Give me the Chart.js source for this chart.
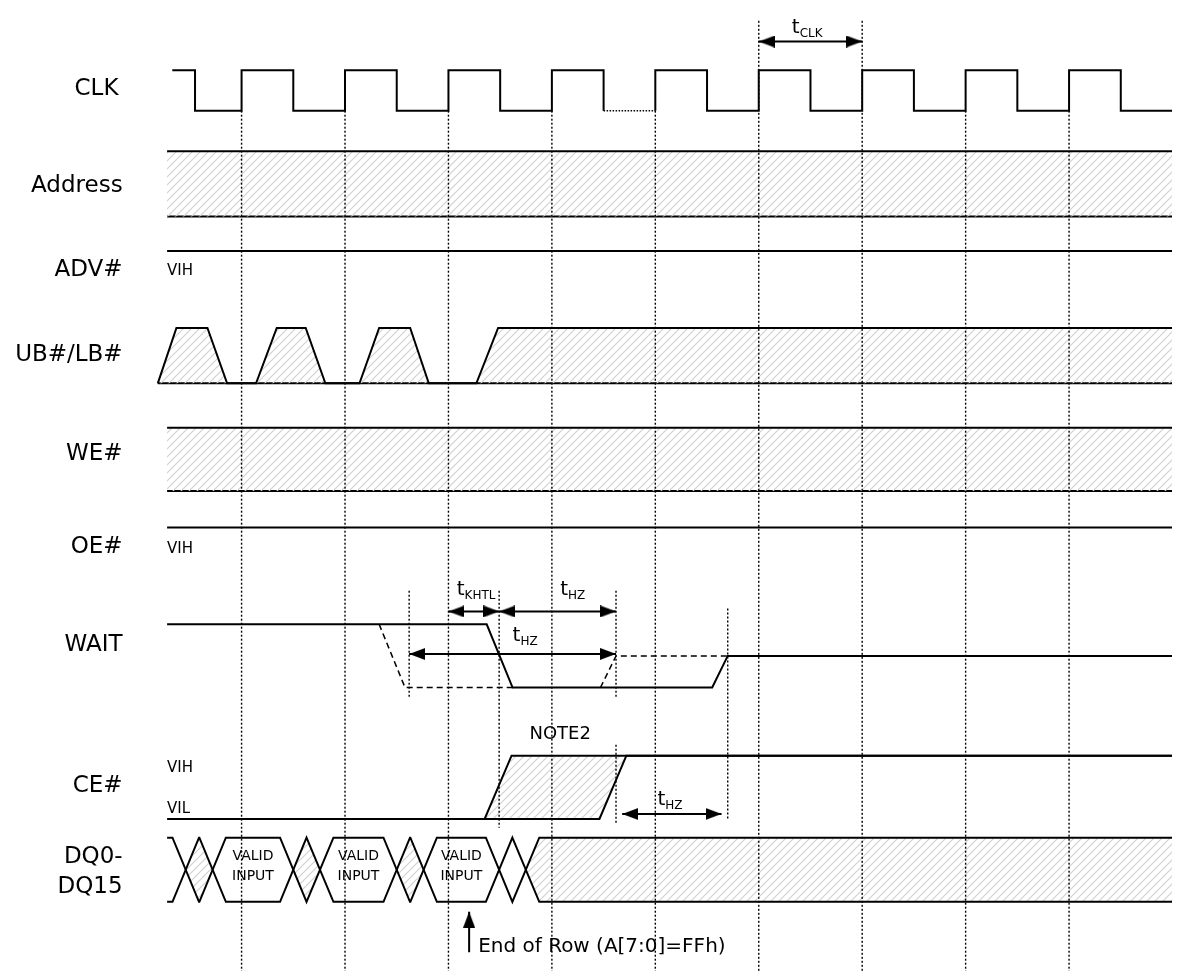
<!DOCTYPE html>
<html>
<head>
<meta charset="utf-8">
<script src="https://cdn.jsdelivr.net/npm/chart.js@4.4.1/dist/chart.umd.min.js"></script>
<style>
  html, body { margin: 0; padding: 0; background: #fff; }
  canvas { display: block; }
</style>
</head>
<body>
<canvas id="timing" width="1178" height="977"></canvas>
<script>
// x axis is in clock cycles: 0 = first rising CLK edge with a guide line
const X_START = -0.72;
const X_END = 9.0;

// ---- waveform data (time in cycles, level 0 = low, 1 = high, 0.5 = high-Z) ----
const clkStart = -0.67;
const clkEdges = [-0.45, 0, 0.5, 1, 1.5, 2, 2.5, 3, 3.5, 4, 4.5, 5, 5.5, 6, 6.5, 7, 7.5, 8, 8.5];
const clkStretch = [3.5, 4];          // low phase drawn dotted
const clkRises = [0, 1, 2, 3, 4, 5, 6, 7, 8];

const ubTimes  = [-0.81, -0.63, -0.33, -0.14, 0.14, 0.34, 0.62, 0.81, 1.14, 1.33, 1.63, 1.81, 2.27, 2.48, X_END];
const ubLevels = [0, 1, 1, 0, 0, 1, 1, 0, 0, 1, 1, 0, 0, 1, 1];

const waitTimes  = [X_START, 2.37, 2.62, 4.55, 4.70, X_END];
const waitLevels = [1, 1, 0, 0, 0.5, 0.5];
const waitEarlyTimes  = [1.33, 1.58, 2.62];
const waitEarlyLevels = [1, 0, 0];
const waitLateTimes  = [3.47, 3.62, 4.70];
const waitLateLevels = [0, 0.5, 0.5];

const ceTimes  = [X_START, 2.35, 2.61, X_END];
const ceLevels = [0, 0, 1, 1];
const ceLateTimes  = [2.35, 3.46, 3.72, X_END];
const ceLateLevels = [0, 0, 1, 1];

const dqCross = [-0.54, -0.28, 0.5, 0.76, 1.5, 1.76, 2.49, 2.75];
const dqHalf = 0.128;
const dqInvalid = [[-0.54, -0.28], [0.5, 0.76], [1.5, 1.76]];
const dqTristate = 2.75;
const dqValid = [[-0.28, 0.5], [0.76, 1.5], [1.76, 2.49]];

const busStart = -0.72;

// timing parameters: name, from, to
const tNames = ['CLK', 'KHTL', 'HZ', 'HZ', 'HZ'];
const tFrom  = [5, 2.0, 2.49, 1.62, 3.68];
const tTo    = [6, 2.49, 3.62, 3.62, 4.64];

// short guide lines around WAIT / CE#
const extraGuideX = [1.62, 2.49, 3.62, 3.62, 4.70];

const signalNames = ['CLK', 'Address', 'ADV#', 'UB#/LB#', 'WE#', 'OE#', 'WAIT', 'CE#', 'DQ0-', 'DQ15'];
const endOfRowAt = 2.2;

// ---- layout (y in pixels of the 977 px tall plot) ----
const L = {
  clk:  { hi: 65,  lo: 106 },
  addr: { hi: 147, lo: 213 },
  adv:  { hi: 248, lo: 290 },
  ub:   { hi: 326, lo: 382 },
  we:   { hi: 427, lo: 491 },
  oe:   { hi: 528, lo: 570 },
  wait: { hi: 626, lo: 690 },
  ce:   { hi: 759, lo: 823 },
  dq:   { hi: 842, lo: 907 },
};
const nameY = [84, 182, 267, 353, 454, 548, 647, 790, 862, 892];
const nameX = [-1.19, -1.15, -1.15, -1.15, -1.15, -1.15, -1.15, -1.15, -1.15, -1.15];
const tArrowY = [36, 613, 613, 656, 818];
const tLabelX = [5.32, 2.08, 3.08, 2.62, 4.02];
const tLabelY = [27, 596, 596, 643, 809];
const extraGuideY = [[592, 700], [592, 832], [592, 700], [748, 828], [610, 823]];

const FONT = '"DejaVu Sans", Verdana, sans-serif';

const yAt = (ln, level) => ln.lo + (ln.hi - ln.lo) * level;
const pts = (ln, times, levels) => times.map((t, i) => ({ x: t, y: yAt(ln, levels[i]) }));

function hatch() {
  const c = document.createElement('canvas');
  c.width = 8; c.height = 8;
  const g = c.getContext('2d');
  g.strokeStyle = '#d2d2d2';
  g.lineWidth = 1.2;
  g.beginPath();
  g.moveTo(-1, 9); g.lineTo(9, -1);
  g.moveTo(-3, 3); g.lineTo(3, -3);
  g.moveTo(5, 11); g.lineTo(11, 5);
  g.stroke();
  return g.createPattern(c, 'repeat');
}
const HATCH = hatch();

// arrow head image, tip at the centre pointing left
function arrowHead(len, half) {
  const c = document.createElement('canvas');
  c.width = len * 2; c.height = half * 2;
  const g = c.getContext('2d');
  g.fillStyle = '#000';
  g.beginPath();
  g.moveTo(len, half); g.lineTo(len * 2, 0); g.lineTo(len * 2, half * 2);
  g.closePath(); g.fill();
  return c;
}
const HEAD = arrowHead(16, 6);

function line(data, extra) {
  return Object.assign({
    data, showLine: true, borderColor: '#000', borderWidth: 2,
    pointRadius: 0, fill: false, order: 2,
  }, extra || {});
}
function hatchPair(upper, lower, outline) {
  return [
    line(upper, { fill: '+1', backgroundColor: HATCH, borderWidth: outline ? 2 : 0, order: 3 }),
    line(lower, { borderWidth: outline ? 2 : 0, order: 3 }),
  ];
}

const datasets = [];

// CLK
const clkPts = [{ x: clkStart, y: yAt(L.clk, 1) }];
let lvl = 1;
clkEdges.forEach(t => {
  clkPts.push({ x: t, y: yAt(L.clk, lvl) });
  lvl = 1 - lvl;
  clkPts.push({ x: t, y: yAt(L.clk, lvl) });
});
clkPts.push({ x: X_END, y: yAt(L.clk, lvl) });
const inStretch = ctx => ctx.p0.parsed.x === clkStretch[0] && ctx.p1.parsed.x === clkStretch[1];
datasets.push(line(clkPts, {
  segment: {
    borderDash: ctx => inStretch(ctx) ? [1.5, 1.5] : undefined,
    borderWidth: ctx => inStretch(ctx) ? 1.5 : 2,
  },
}));

// Address and WE# : don't care bands
datasets.push(...hatchPair(pts(L.addr, [busStart, X_END], [1, 1]), pts(L.addr, [busStart, X_END], [0, 0]), true));
datasets.push(...hatchPair(pts(L.we, [busStart, X_END], [1, 1]), pts(L.we, [busStart, X_END], [0, 0]), true));

// ADV# and OE# held at VIH
datasets.push(line(pts(L.adv, [busStart, X_END], [1, 1])));
datasets.push(line(pts(L.oe, [busStart, X_END], [1, 1])));

// UB#/LB#
datasets.push(...hatchPair(pts(L.ub, ubTimes, ubLevels), pts(L.ub, [ubTimes[0], X_END], [0, 0]), true));

// WAIT
datasets.push(line(pts(L.wait, waitTimes, waitLevels)));
datasets.push(line(pts(L.wait, waitEarlyTimes, waitEarlyLevels), { borderDash: [6, 4], borderWidth: 1.5 }));
datasets.push(line(pts(L.wait, waitLateTimes, waitLateLevels), { borderDash: [6, 4], borderWidth: 1.5 }));

// CE#
datasets.push(line(pts(L.ce, ceTimes, ceLevels)));
datasets.push(...hatchPair(
  pts(L.ce, ceTimes.slice(1), ceLevels.slice(1)),
  pts(L.ce, ceLateTimes, ceLateLevels), false));
datasets.push(line(pts(L.ce, ceLateTimes, ceLateLevels)));

// DQ bus rails
const T = L.dq.hi, B = L.dq.lo, M = (T + B) / 2;
const railA = [{ x: busStart, y: T }], railB = [{ x: busStart, y: B }];
let aTop = true;
dqCross.forEach(c => {
  railA.push({ x: c - dqHalf, y: aTop ? T : B }, { x: c + dqHalf, y: aTop ? B : T });
  railB.push({ x: c - dqHalf, y: aTop ? B : T }, { x: c + dqHalf, y: aTop ? T : B });
  aTop = !aTop;
});
railA.push({ x: X_END, y: aTop ? T : B });
railB.push({ x: X_END, y: aTop ? B : T });
datasets.push(line(railA), line(railB));
dqInvalid.forEach(([c1, c2]) => {
  const mid = (c1 + c2) / 2;
  datasets.push(...hatchPair(
    [{ x: c1, y: M }, { x: mid, y: T }, { x: c2, y: M }],
    [{ x: c1, y: M }, { x: mid, y: B }, { x: c2, y: M }], false));
});
datasets.push(...hatchPair(
  [{ x: dqTristate, y: M }, { x: dqTristate + dqHalf, y: T }, { x: X_END, y: T }],
  [{ x: dqTristate, y: M }, { x: dqTristate + dqHalf, y: B }, { x: X_END, y: B }], false));

// guide lines on the rising CLK edges
clkRises.forEach(t => {
  const top = (t === tFrom[0] || t === tTo[0]) ? 15 : L.clk.lo;
  datasets.push(line([{ x: t, y: top }, { x: t, y: 977 }], { borderDash: [2, 2], borderWidth: 1.4, order: 1 }));
});
extraGuideX.forEach((t, i) => {
  datasets.push(line([{ x: t, y: extraGuideY[i][0] }, { x: t, y: extraGuideY[i][1] }],
    { borderDash: [2, 2], borderWidth: 1.4, order: 1 }));
});

// timing arrows
tFrom.forEach((a, i) => {
  datasets.push(line([{ x: a, y: tArrowY[i] }, { x: tTo[i], y: tArrowY[i] }], {
    pointStyle: HEAD, pointRadius: 1, pointRotation: [0, 180], order: 0,
  }));
});
// End of Row marker
datasets.push(line([{ x: endOfRowAt, y: 917 }, { x: endOfRowAt, y: 958 }], {
  pointStyle: HEAD, pointRadius: [1, 0], pointRotation: [90, 0], order: 0,
}));

const bgPlugin = {
  id: 'custom_bg',
  beforeDraw: (chart) => {
    const ctx = chart.ctx;
    ctx.save();
    ctx.fillStyle = '#fff';
    ctx.fillRect(0, 0, chart.width, chart.height);
    ctx.restore();
  }
};

const textPlugin = {
  id: 'timing_text',
  afterDatasetsDraw: (chart) => {
    const ctx = chart.ctx;
    const xs = chart.scales.x, ys = chart.scales.y;
    const px = v => xs.getPixelForValue(v);
    const py = v => ys.getPixelForValue(v);
    const text = (s, x, y, size, align, base) => {
      ctx.font = `${size}px ${FONT}`;
      ctx.textAlign = align || 'left';
      ctx.textBaseline = base || 'middle';
      ctx.fillText(s, x, y);
    };
    ctx.save();
    ctx.fillStyle = '#000';

    signalNames.forEach((s, i) => text(s, px(nameX[i]), py(nameY[i]), 23, 'right'));

    text('VIH', px(busStart), py(268), 15);
    text('VIH', px(busStart), py(nameY[5] + 2), 15);
    text('VIH', px(busStart), py(772), 15);
    text('VIL', px(busStart), py(813), 15);
    text('NOTE2', px(3.08), py(737), 18, 'center');

    tNames.forEach((s, i) => {
      const x = px(tLabelX[i]), y = py(tLabelY[i]);
      text('t', x, y, 20, 'left', 'alphabetic');
      const w = ctx.measureText('t').width;
      text(s, x + w, y + 4, 12, 'left', 'alphabetic');
    });

    dqValid.forEach(([a, b]) => {
      const x = px((a + b) / 2);
      text('VALID', x, py(861), 14, 'center');
      text('INPUT', x, py(881), 14, 'center');
    });

    text('End of Row (A[7:0]=FFh)', px(endOfRowAt) + 9, py(958), 20, 'left', 'alphabetic');
    ctx.restore();
  }
};

new Chart(document.getElementById('timing'), {
  type: 'scatter',
  data: { datasets },
  options: {
    responsive: false,
    animation: false,
    devicePixelRatio: 1,
    layout: { padding: 0 },
    events: [],
    elements: { point: { radius: 0 }, line: { tension: 0 } },
    plugins: { legend: { display: false }, tooltip: { enabled: false } },
    scales: {
      x: { type: 'linear', display: false, min: (0 - 238) / 104.5, max: (1178 - 238) / 104.5 },
      y: { type: 'linear', display: false, min: 0, max: 977, reverse: true },
    },
  },
  plugins: [bgPlugin, textPlugin],
});
</script>
</body>
</html>
